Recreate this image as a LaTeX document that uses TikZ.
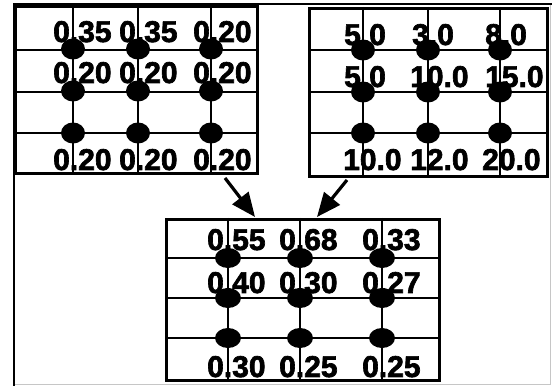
\documentclass[tikz,border=0pt]{standalone}
\usepackage{fontspec}
\setmainfont{Liberation Sans}
\newfontfamily\valfont[FakeBold=2.2]{Liberation Sans}
\usetikzlibrary{arrows.meta}
\tikzset{
  boxline/.style={line width=2.6pt},
  gridline/.style={line width=1.8pt},
  val/.style={anchor=base west, inner sep=0pt, font=\valfont\fontsize{30}{32}\selectfont\bfseries},
  spot/.style={fill=black},
  flow/.style={line width=3.2pt, -{Triangle[length=24pt,width=20pt]}},
  frameline/.style={line width=2.6pt},
  faintline/.style={line width=1pt, gray!45}
}
\newcommand{\gridpanel}[8]{%
  \draw[gridline] (#1,#5) -- (#3,#5) (#1,#6) -- (#3,#6) (#1,#7) -- (#3,#7);
  \foreach \cx in {#8} {\draw[gridline] (\cx,#2) -- (\cx,#4);}
}
\begin{document}
\begin{tikzpicture}[x=1pt,y=-1pt]
\useasboundingbox (0,0) rectangle (552,387);
% outer frame
\draw[faintline] (550,4) -- (550,385) -- (14,385);
\draw[frameline] (14,386) -- (14,4) -- (552,4);
% panels as named nodes
\node[draw, boxline, anchor=north west, minimum width=242pt, minimum height=167pt, inner sep=0pt] (L) at (14,5) {};
\node[draw, boxline, anchor=north west, minimum width=238pt, minimum height=168pt, inner sep=0pt] (R) at (308,7) {};
\node[draw, boxline, anchor=north west, minimum width=273pt, minimum height=161pt, inner sep=0pt] (B) at (165,218) {};
% grids
\gridpanel{14}{5}{256}{172}{50}{92}{133}{73,138,211}{}{}
\gridpanel{308}{7}{546}{175}{50}{92}{133}{363,428,500}{}{}
\gridpanel{165}{218}{438}{379}{258}{298}{338}{228,300,382}{}{}
% left values
\node[val] (l11) at (53,42) {0.35};
\node[val] (l12) at (119,42) {0.35};
\node[val] (l13) at (193,42) {0.20};
\node[val] (l21) at (53,83) {0.20};
\node[val] (l22) at (119,83) {0.20};
\node[val] (l23) at (193,83) {0.20};
\node[val] (l31) at (53,170) {0.20};
\node[val] (l32) at (119,170) {0.20};
\node[val] (l33) at (193,170) {0.20};
% right values
\node[val] (r11) at (344,45) {5.0};
\node[val] (r12) at (412,45) {3.0};
\node[val] (r13) at (485,45) {8.0};
\node[val] (r21) at (344,87) {5.0};
\node[val] (r22) at (410,87) {10.0};
\node[val] (r23) at (485,87) {15.0};
\node[val] (r31) at (343,170) {10.0};
\node[val] (r32) at (410,170) {12.0};
\node[val] (r33) at (482,170) {20.0};
% bottom values
\node[val] (b11) at (207,250) {0.55};
\node[val] (b12) at (279,250) {0.68};
\node[val] (b13) at (362,250) {0.33};
\node[val] (b21) at (207,293) {0.40};
\node[val] (b22) at (279,293) {0.30};
\node[val] (b23) at (362,293) {0.27};
\node[val] (b31) at (207,377) {0.30};
\node[val] (b32) at (279,377) {0.25};
\node[val] (b33) at (362,377) {0.25};
% dots
\foreach \cx in {73,138,211} \foreach \cy in {49,91,133}
  {\fill[spot] (\cx,\cy) ellipse [x radius=12pt, y radius=10.5pt];}
\foreach \cx in {363,428,500} \foreach \cy in {50,92,133}
  {\fill[spot] (\cx,\cy) ellipse [x radius=12pt, y radius=10.5pt];}
\foreach \cx in {228,300,382} \foreach \cy in {258,298,338}
  {\fill[spot] (\cx,\cy) ellipse [x radius=13pt, y radius=10pt];}
% arrows
\coordinate (la) at (225,178);
\coordinate (lt) at (255,217);
\coordinate (ra) at (347,180);
\coordinate (rt) at (317,217);
\draw[flow] (la) -- (lt);
\draw[flow] (ra) -- (rt);
\end{tikzpicture}
\end{document}
